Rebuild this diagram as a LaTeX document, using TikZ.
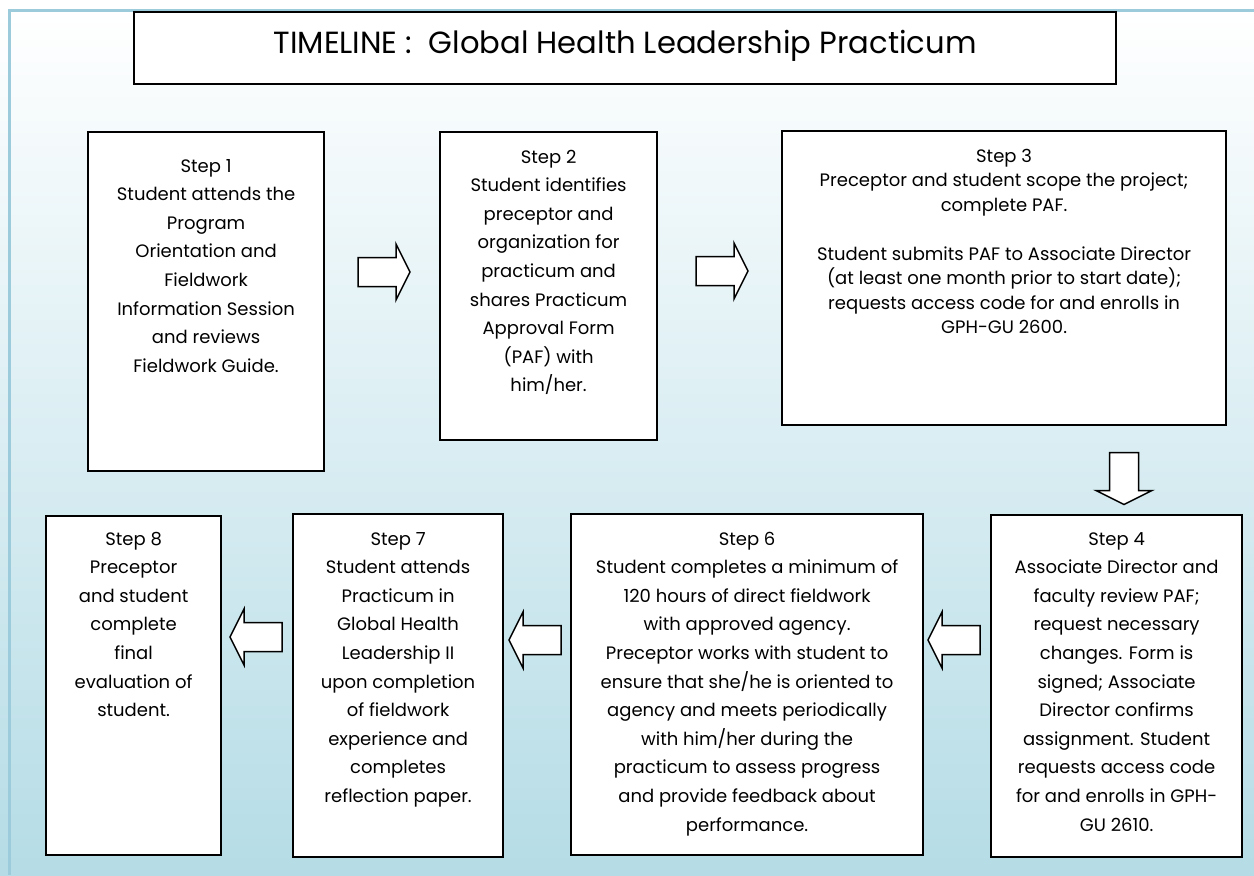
\documentclass[tikz,border=0pt]{standalone}
\usepackage{fontspec}
\setmainfont{Poppins}
\usetikzlibrary{calc}

\definecolor{framec}{HTML}{9CCCDC}
\definecolor{bgtop}{HTML}{FFFFFF}
\definecolor{bgmid}{HTML}{DDEEF3}
\definecolor{bgbot}{HTML}{B5DCE6}

\newcommand\bodyfont{\fontsize{9.0pt}{14.3pt}\selectfont}
\newcommand\tightfont{\fontsize{9.0pt}{12.25pt}\selectfont}

\tikzset{
  box/.style={draw=black, line width=1.1pt, fill=white, inner sep=0pt, anchor=north west},
  steptext/.style={inner sep=0pt, anchor=base},
  blockarrow/.pic={
    \draw[fill=white, line width=0.75pt, line join=miter]
      (-26,-14.5) -- (12,-14.5) -- (12,-28) -- (26,0) -- (12,28) -- (12,14.5) -- (-26,14.5) -- cycle;
  }
}

\begin{document}
\begin{tikzpicture}[x=0.5pt, y=-0.5pt]
\useasboundingbox (0,0) rectangle (1254,875);

% page background and frame
\fill[white] (0,0) rectangle (1254,875);
\shade[top color=bgtop, middle color=bgmid, bottom color=bgbot] (0,10) rectangle (1254,875);
\draw[framec, line width=1.5pt] (1254,10) -- (9,10) -- (9,875);

% title
\node[box, minimum width=491pt, minimum height=36pt] (title) at (133,11) {};
\node[steptext, font=\fontsize{15.3pt}{18pt}\selectfont] at ($(title.north)+(0,42)$)
  {TIMELINE :~~Global Health Leadership Practicum};

% step boxes
\node[box, minimum width=118pt,   minimum height=169.5pt] (s1) at (87,131)  {};
\node[box, minimum width=108.5pt, minimum height=154pt]   (s2) at (439,131) {};
\node[box, minimum width=222pt,   minimum height=147pt]   (s3) at (781,130) {};
\node[box, minimum width=125.5pt, minimum height=171pt]   (s4) at (990,514) {};
\node[box, minimum width=176pt,   minimum height=170.5pt] (s6) at (570,513) {};
\node[box, minimum width=105pt,   minimum height=171.5pt] (s7) at (292,513) {};
\node[box, minimum width=87.5pt,  minimum height=169.5pt] (s8) at (45,515)  {};

% step texts
\node[steptext] at ($(s1.north)+(0,41)$) {\parbox[t]{118pt}{\bodyfont\centering
  Step 1\\ Student attends the\\ Program\\ Orientation and\\ Fieldwork\\
  Information Session\\ and reviews\\ Fieldwork Guide.}};

\node[steptext] at ($(s2.north)+(0,32)$) {\parbox[t]{108.5pt}{\bodyfont\centering
  Step 2\\ Student identifies\\ preceptor and\\ organization for\\ practicum and\\
  shares Practicum\\ Approval Form\\ (PAF) with\\ him/her.}};

\node[steptext] at ($(s3.north)+(0,32)$) {\parbox[t]{222pt}{\tightfont\centering
  Step 3\\ Preceptor and student scope the project;\\ complete PAF.\\[12.25pt]
  Student submits PAF to Associate Director\\ (at least one month prior to start date);\\
  requests access code for and enrolls in\\ GPH-GU 2600.}};

\node[steptext] at ($(s4.north)+(0,31)$) {\parbox[t]{125.5pt}{\bodyfont\centering
  Step 4\\ Associate Director and\\ faculty review PAF;\\ request necessary\\
  changes. Form is\\ signed; Associate\\ Director confirms\\ assignment. Student\\
  requests access code\\ for and enrolls in GPH-\\ GU 2610.}};

\node[steptext] at ($(s6.north)+(0,32)$) {\parbox[t]{176pt}{\bodyfont\centering
  Step 6\\ Student completes a minimum of\\ 120 hours of direct fieldwork\\
  with approved agency.\\ Preceptor works with student to\\ ensure that she/he is oriented to\\
  agency and meets periodically\\ with him/her during the\\ practicum to assess progress\\
  and provide feedback about\\ performance.}};

\node[steptext] at ($(s7.north)+(0,32)$) {\parbox[t]{105pt}{\bodyfont\centering
  Step 7\\ Student attends\\ Practicum in\\ Global Health\\ Leadership II\\
  upon completion\\ of fieldwork\\ experience and\\ completes\\ reflection paper.}};

\node[steptext] at ($(s8.north)+(0,30)$) {\parbox[t]{87.5pt}{\bodyfont\centering
  Step 8\\ Preceptor\\ and student\\ complete\\ final\\ evaluation of\\ student.}};

% block arrows between the steps
\pic at (384,272) {blockarrow};
\pic at (722,271) {blockarrow};
\pic[rotate=-90] at (1124,478.5) {blockarrow};
\pic[xscale=-1] at (954,640) {blockarrow};
\pic[xscale=-1] at (535,640) {blockarrow};
\pic[xscale=-1] at (256,637) {blockarrow};
\end{tikzpicture}
\end{document}
